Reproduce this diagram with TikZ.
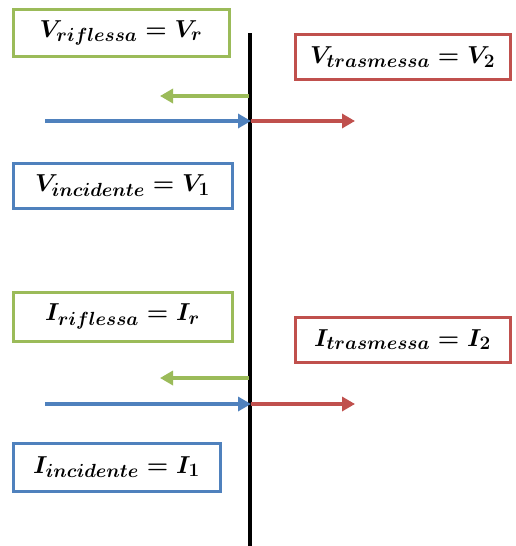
\RequirePackage{fix-cm}
\documentclass[tikz,border=0pt]{standalone}
\usetikzlibrary{arrows.meta}
\DeclareMathSizes{24.5}{24.5}{19}{15}
\definecolor{cgreen}{RGB}{155,187,89}
\definecolor{cblue}{RGB}{79,129,189}
\definecolor{cred}{RGB}{192,80,77}
\begin{document}
\begin{tikzpicture}[x=1pt,y=-1pt,
  lbl/.style={draw=#1,line width=3pt,fill=white,inner sep=0pt,font=\fontsize{24.5}{28}\selectfont\boldmath},
  wave/.style={draw=#1,line width=4pt,-{Triangle[length=13pt,width=14pt]}}]
\useasboundingbox (0,0) rectangle (515,546);
\fill[white] (0,0) rectangle (515,546);
% wall
\coordinate (wt) at (250,33);
\coordinate (wb) at (250,546);
\draw[line width=3.5pt] (wt) -- (wb);
% boxes
\node[lbl=cgreen,minimum width=216pt,minimum height=47pt] (vr) at (121,33) {$V_{riflessa}=V_r$};
\node[lbl=cred,minimum width=215pt,minimum height=45pt] (vt) at (402.5,57) {$V_{trasmessa}=V_2$};
\node[lbl=cblue,minimum width=219pt,minimum height=45pt] (vi) at (122.5,185.5) {$V_{incidente}=V_1$};
\node[lbl=cgreen,minimum width=219pt,minimum height=49pt] (ir) at (122.5,316.5) {$I_{riflessa}=I_r$};
\node[lbl=cred,minimum width=215pt,minimum height=45pt] (it) at (402.5,339.5) {$I_{trasmessa}=I_2$};
\node[lbl=cblue,minimum width=207pt,minimum height=48pt] (ii) at (116.5,467) {$I_{incidente}=I_1$};
% arrow coordinates
\coordinate (vg0) at (249,96);  \coordinate (vg1) at (160,96);
\coordinate (vb0) at (45,121);  \coordinate (vb1) at (251,121);
\coordinate (vr1) at (355,121);
\coordinate (ig0) at (249,378); \coordinate (ig1) at (160,378);
\coordinate (ib0) at (45,404);  \coordinate (ib1) at (251,404);
\coordinate (ir1) at (355,404);
\draw[wave=cgreen] (vg0) -- (vg1);
\draw[wave=cred] (vb1) -- (vr1);
\draw[wave=cblue] (vb0) -- (vb1);
\draw[wave=cgreen] (ig0) -- (ig1);
\draw[wave=cred] (ib1) -- (ir1);
\draw[wave=cblue] (ib0) -- (ib1);
\end{tikzpicture}
\end{document}
